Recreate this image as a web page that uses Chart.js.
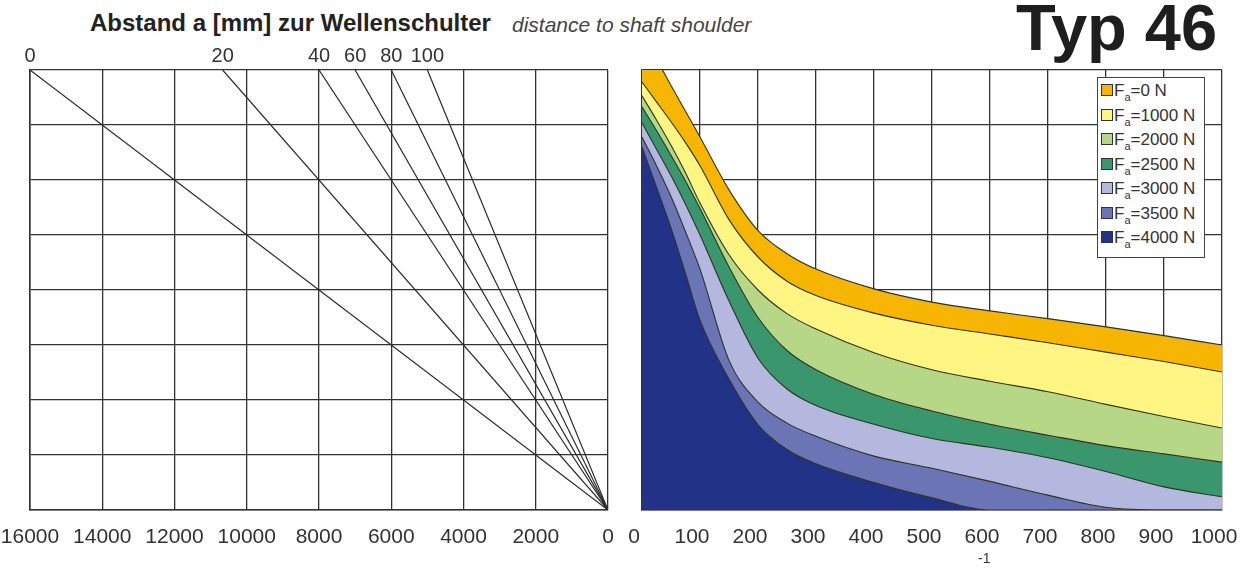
<!DOCTYPE html>
<html>
<head>
<meta charset="utf-8">
<script src="https://cdn.jsdelivr.net/npm/chart.js@4.4.0/dist/chart.umd.min.js"></script>
<style>
  html, body { margin: 0; padding: 0; background: #fff; }
  body { width: 1247px; height: 568px; position: relative; overflow: hidden;
         font-family: "Liberation Sans", Arial, sans-serif; color: #222; }
  #leftBox  { position: absolute; left: 0;     top: 0; width: 620px; height: 568px; }
  #rightBox { position: absolute; left: 620px; top: 0; width: 627px; height: 568px; }
  .title    { position: absolute; left: 90px;  top: 9px;  font-weight: bold; font-size: 24px; color: #222; }
  .subtitle { position: absolute; left: 512px; top: 13px; font-style: italic; font-size: 21px; color: #444; }
  .typ      { position: absolute; left: 1016px; top: -10px; font-weight: bold; font-size: 65px; color: #1e1e1e; }
  #legend   { position: absolute; left: 1097px; top: 77px; width: 108px; height: 181px;
              background: #fff; border: 1.5px solid #444; padding-top: 2px; box-sizing: border-box; }
  #legend .item { height: 24.5px; font-size: 17px; color: #333; line-height: 21px; padding-left: 3px; white-space: nowrap; }
  #legend .sw { display: inline-block; width: 10px; height: 10px; border: 1px solid #333; margin-right: 1px; vertical-align: 0px; }
  #legend sub { font-size: 11px; vertical-align: -5px; line-height: 0; }
</style>
</head>
<body>
<div class="title">Abstand a [mm] zur Wellenschulter</div>
<div class="subtitle">distance to shaft shoulder</div>
<div class="typ">Typ 46</div>
<div id="leftBox"><canvas id="leftChart"></canvas></div>
<div id="rightBox"><canvas id="rightChart"></canvas></div>
<div id="legend"></div>

<script>
/* ── Data ───────────────────────────────────────────────────────────────────── */
// left nomogram: one ray per distance a, from (top x, Y_MAX) down to (0, 0)
const DIST_LABELS = ["0", "20", "40", "60", "80", "100"];
const DIST_TOP_X  = [16000, 10667, 8000, 7000, 6000, 5000];
const LEFT_X_TICKS = [0, 2000, 4000, 6000, 8000, 10000, 12000, 14000, 16000];

// right diagram: speed n and the upper boundary of each Fa band
const RPM = [0, 25, 50, 75, 100, 150, 200, 250, 300, 400, 500, 600, 700, 800, 900, 1000];
const RIGHT_X_TICKS = [0, 100, 200, 300, 400, 500, 600, 700, 800, 900, 1000];
const FA_0    = [8.7, 8.2, 7.72, 7.25, 6.78, 5.82, 5.08, 4.66, 4.38, 4.02, 3.78, 3.62, 3.48, 3.33, 3.17, 3.0];
const FA_1000 = [7.78, 7.42, 7.06, 6.68, 6.26, 5.28, 4.6, 4.16, 3.9, 3.58, 3.36, 3.2, 3.04, 2.87, 2.7, 2.51];
const FA_2000 = [7.53, 7.09, 6.63, 6.13, 5.58, 4.64, 4.0, 3.57, 3.29, 2.86, 2.55, 2.34, 2.15, 1.92, 1.7, 1.49];
const FA_2500 = [7.33, 6.9, 6.45, 5.98, 5.48, 4.42, 3.5, 2.9, 2.55, 2.1, 1.8, 1.56, 1.36, 1.17, 1.02, 0.87];
const FA_3000 = [7.04, 6.56, 6.08, 5.56, 5.0, 3.8, 2.76, 2.2, 1.9, 1.56, 1.3, 1.14, 0.95, 0.7, 0.42, 0.24];
const FA_3500 = [6.78, 6.26, 5.7, 5.06, 4.38, 2.72, 1.96, 1.58, 1.34, 0.98, 0.76, 0.52, 0.27, 0.05, 0, 0];
const FA_4000 = [6.6, 5.87, 5.13, 4.3, 3.45, 2.38, 1.55, 1.1, 0.84, 0.5, 0.22, 0, 0, 0, 0, 0];

const FA_VALUES = [0, 1000, 2000, 2500, 3000, 3500, 4000];
const FA_SERIES = [FA_0, FA_1000, FA_2000, FA_2500, FA_3000, FA_3500, FA_4000];
const FA_COLORS = ["#f6b500", "#fff582", "#b6d886", "#3a966c", "#b4b8de", "#6b74b5", "#223287"];

const Y_MAX = 8;
const GRID = "#333333";
const TICK_FONT = { size: 21, family: '"Liberation Sans", Arial, sans-serif' };

/* ── Plugins ────────────────────────────────────────────────────────────────── */
// labels of the rays above the left plot
const rayLabels = {
  id: "rayLabels",
  afterDraw(chart) {
    const { ctx, scales: { x }, chartArea } = chart;
    ctx.save();
    ctx.font = '20px "Liberation Sans", Arial, sans-serif';
    ctx.fillStyle = "#333";
    ctx.textAlign = "center";
    ctx.textBaseline = "alphabetic";
    DIST_LABELS.forEach((lab, i) => {
      ctx.fillText(lab, x.getPixelForValue(DIST_TOP_X[i]), chartArea.top - 8);
    });
    ctx.restore();
  },
};

// the lonely "-1" exponent under the speed axis
const unitMark = {
  id: "unitMark",
  afterDraw(chart) {
    const { ctx, scales: { x } } = chart;
    ctx.save();
    ctx.font = '14px "Liberation Sans", Arial, sans-serif';
    ctx.fillStyle = "#333";
    ctx.textAlign = "center";
    ctx.fillText("-1", x.getPixelForValue(590), 563);
    ctx.restore();
  },
};

const fixedTicks = (list) => (axis) => { axis.ticks = list.map((v) => ({ value: v })); };
// fixed axis band height, and let layout.padding alone decide the plot edges
const fitX = (s) => { s.height = 58; s.paddingLeft = 0; s.paddingRight = 0; };

/* ── Left chart ─────────────────────────────────────────────────────────────── */
new Chart(document.getElementById("leftChart"), {
  type: "line",
  data: {
    datasets: DIST_LABELS.map((lab, i) => ({
      label: lab,
      data: [{ x: DIST_TOP_X[i], y: Y_MAX }, { x: 0, y: 0 }],
      borderColor: "#2a2a2a",
      borderWidth: 1.2,
      pointRadius: 0,
      fill: false,
      tension: 0,
    })),
  },
  options: {
    responsive: true,
    maintainAspectRatio: false,
    animation: false,
    layout: { padding: { left: 30, right: 12, top: 70, bottom: 0 } },
    plugins: { legend: { display: false }, tooltip: { enabled: false } },
    scales: {
      x: {
        type: "linear", reverse: true, min: 0, max: 16000,
        afterBuildTicks: fixedTicks(LEFT_X_TICKS),
        ticks: { padding: 15, color: "#333", font: TICK_FONT, maxRotation: 0, autoSkip: false,
                 callback: (v) => String(v) },
        grid: { color: GRID, lineWidth: 1.3, drawTicks: false },
        border: { color: GRID, width: 1.6 },
        afterFit: fitX,
      },
      y: {
        min: 0, max: Y_MAX,
        ticks: { display: false, stepSize: 1 },
        grid: { color: GRID, lineWidth: 1.3, drawTicks: false },
        border: { color: GRID, width: 1.6 },
        afterFit: (s) => { s.width = 0; },
      },
    },
  },
  plugins: [rayLabels],
});

/* ── Right chart ────────────────────────────────────────────────────────────── */
new Chart(document.getElementById("rightChart"), {
  type: "line",
  data: {
    datasets: FA_SERIES.map((series, i) => ({
      label: `Fa=${FA_VALUES[i]} N`,
      data: RPM.map((n, j) => ({ x: n, y: series[j] })),
      backgroundColor: FA_COLORS[i],
      borderColor: "#2f3424",
      borderWidth: 1.1,
      pointRadius: 0,
      fill: "origin",
      cubicInterpolationMode: "monotone",
      order: FA_SERIES.length - i, // smallest band on top
    })),
  },
  options: {
    responsive: true,
    maintainAspectRatio: false,
    animation: false,
    layout: { padding: { left: 22, right: 25, top: 70, bottom: 0 } },
    plugins: { legend: { display: false }, tooltip: { enabled: false } },
    scales: {
      x: {
        type: "linear", min: 0, max: 1000,
        afterBuildTicks: fixedTicks(RIGHT_X_TICKS),
        ticks: { padding: 15, labelOffset: -8, color: "#333", font: TICK_FONT, maxRotation: 0, autoSkip: false,
                 callback: (v) => String(v) },
        grid: { color: GRID, lineWidth: 1.3, drawTicks: false },
        border: { color: GRID, width: 1.6 },
        afterFit: fitX,
      },
      y: {
        min: 0, max: Y_MAX,
        ticks: { display: false, stepSize: 1 },
        grid: { color: GRID, lineWidth: 1.3, drawTicks: false },
        border: { color: GRID, width: 1.6 },
        afterFit: (s) => { s.width = 0; },
      },
    },
  },
  plugins: [unitMark],
});

/* ── Legend ─────────────────────────────────────────────────────────────────── */
const legend = document.getElementById("legend");
FA_VALUES.forEach((v, i) => {
  const row = document.createElement("div");
  row.className = "item";
  row.innerHTML = `<span class="sw" style="background:${FA_COLORS[i]}"></span>F<sub>a</sub>=${v} N`;
  legend.appendChild(row);
});
</script>
</body>
</html>
